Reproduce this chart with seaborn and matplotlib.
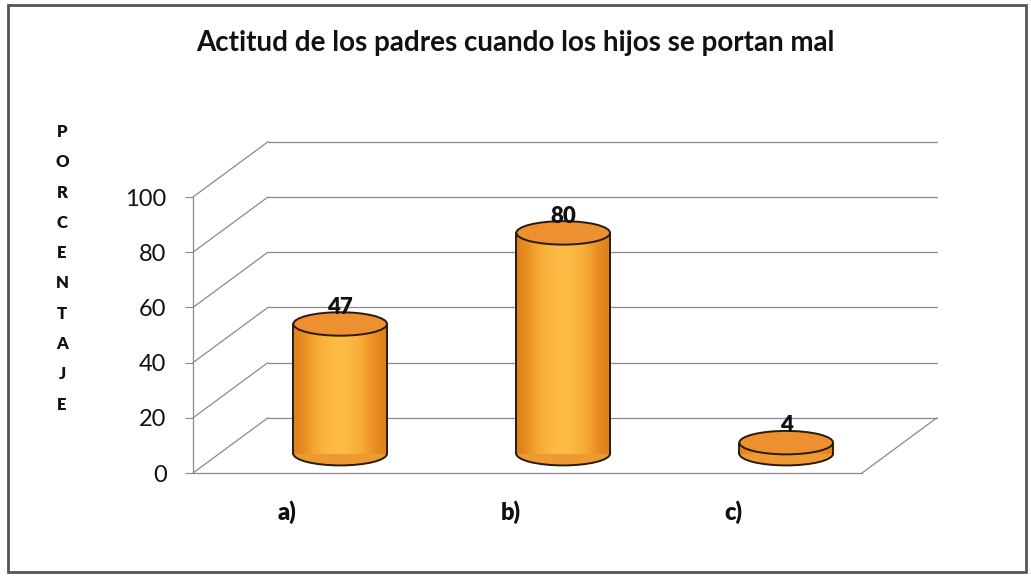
import numpy as np
import matplotlib
matplotlib.use("Agg")
import matplotlib.pyplot as plt
import matplotlib.transforms as mtransforms
from matplotlib.patches import Ellipse, Rectangle
import seaborn as sns

categories = ["a)", "b)", "c)"]
values = [47, 80, 4]
yticks = [0, 20, 40, 60, 80, 100]
title = "Actitud de los padres cuando los hijos se portan mal"
ylabel = "PORCENTAJE"

sns.set_style("white")
plt.rcParams["font.family"] = ["Lato", "DejaVu Sans"]

fig = plt.figure(figsize=(10.31, 5.8), dpi=100)
ax = fig.add_axes([193 / 1031, 107 / 580, 669 / 1031, 276 / 580])

# depth of the fake 3D box (data units) and where the cylinders stand
dx, dy = 0.336, 20
bar_dx, bar_dy = 0.16, 7
ell_h = 8.5
body_col = "#F6A433"
top_col = "#EC9030"
edge = "#2a1a0a"

sns.barplot(x=categories, y=values, ax=ax, width=0.42, color=body_col,
            saturation=1, edgecolor="none", zorder=3)

grid_kw = dict(color="#8a8a8a", lw=0.9, clip_on=False, zorder=1)
# back wall gridlines + slanted side wall lines
for v in yticks:
    ax.plot([-0.5 + dx, 2.5 + dx], [v + dy, v + dy], **grid_kw)
    ax.plot([-0.5, -0.5 + dx], [v, v + dy], **grid_kw)
# floor edges and front axes
ax.plot([2.5, 2.5 + dx], [0, dy], **grid_kw)
ax.plot([-0.5, 2.5], [0, 0], **grid_kw)
ax.plot([-0.5, -0.5], [0, 100], **grid_kw)

grad = np.array([[0.0, 0.35, 0.6, 0.75, 0.6, 0.3, 0.0]])
cmap = matplotlib.colors.LinearSegmentedColormap.from_list(
    "cyl", ["#E0811C", "#F7A833", "#FCC04A"])

for p, v in zip(ax.patches, values):
    p.set_x(p.get_x() + bar_dx)
    p.set_y(bar_dy)
    x0, w = p.get_x(), p.get_width()
    cx = x0 + w / 2
    top = bar_dy + v
    # bottom ellipse (only lower half shows)
    ax.add_patch(Ellipse((cx, bar_dy), w, ell_h, facecolor="#EE9a33",
                         edgecolor=edge, lw=1.4, zorder=2))
    im = ax.imshow(grad, cmap=cmap, extent=[x0, x0 + w, bar_dy, top],
                   aspect="auto", zorder=3, interpolation="bicubic")
    im.set_clip_path(p)
    ax.plot([x0, x0], [bar_dy, top], color=edge, lw=1.4, zorder=4)
    ax.plot([x0 + w, x0 + w], [bar_dy, top], color=edge, lw=1.4, zorder=4)
    ax.add_patch(Ellipse((cx, top), w, ell_h, facecolor=top_col,
                         edgecolor=edge, lw=1.4, zorder=5))
    ax.text(cx, top + ell_h / 2 - 2, str(v), ha="center", va="bottom",
            fontsize=16, fontweight="heavy", color="#111111", zorder=6)

ax.set_xlim(-0.5, 2.5)
ax.set_ylim(0, 100)
ax.set_yticks(yticks)
ax.set_yticklabels([str(t) for t in yticks], fontsize=17, color="#111111")
ax.set_xticks(range(len(categories)))
ax.set_xticklabels(categories, fontsize=17, fontweight="heavy", color="#111111")
ax.set_xticks([-0.5, 0.5, 1.5, 2.5], minor=True)
ax.tick_params(axis="x", which="major", length=0, pad=20)
ax.tick_params(axis="x", which="minor", length=6, color="#8a8a8a", direction="out")
ax.tick_params(axis="y", length=6, color="#8a8a8a", direction="out", pad=13,
               left=True)
shift = mtransforms.ScaledTranslation(-0.17, 0, fig.dpi_scale_trans)
for lab in ax.get_xticklabels():
    lab.set_transform(lab.get_transform() + shift)
ax.set_xlabel("")
ax.set_ylabel("")
for s in ax.spines.values():
    s.set_visible(False)
ax.patch.set_alpha(0)

fig.text(0.5, 1 - 43 / 580, title, ha="center", va="center", fontsize=20,
         fontweight="bold", color="#111111")
for i, ch in enumerate(ylabel):
    fig.text(62 / 1031, 1 - (132 + i * 30.3) / 580, ch, ha="center", va="center",
             fontsize=12, fontweight="heavy", color="#111111")

fig.patches.append(Rectangle((8, 8), 1031 - 13, 580 - 13, transform=None,
                             fill=False, edgecolor="#555555", lw=2))

fig.savefig("out.png", dpi=100)
